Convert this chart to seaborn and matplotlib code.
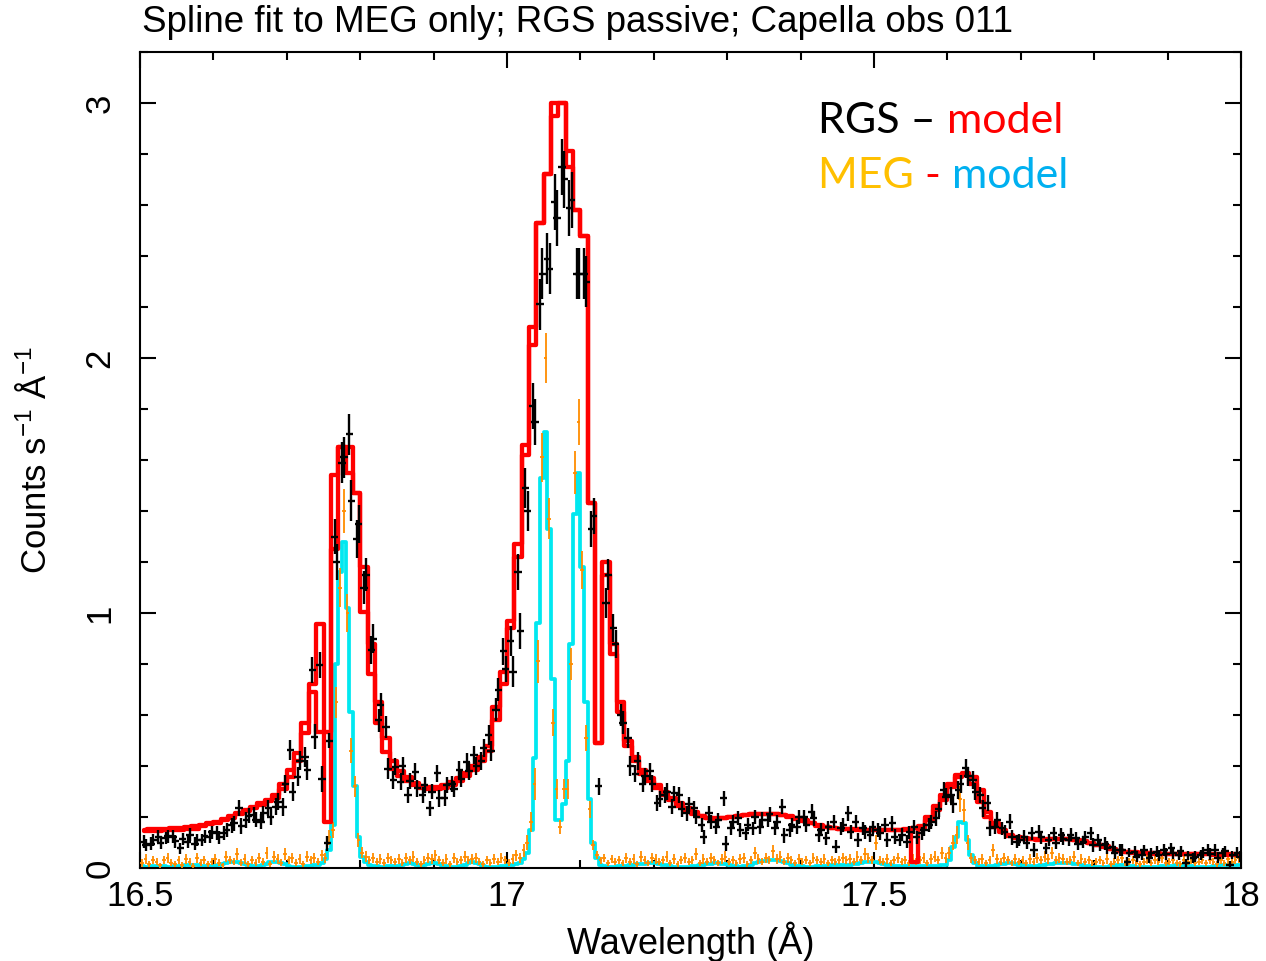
import numpy as np
import matplotlib
matplotlib.use("Agg")
import matplotlib.pyplot as plt
import seaborn as sns
from matplotlib.ticker import MultipleLocator

# RGS bins: 0.01 A wide, 16.50 - 18.00
rgs_start, rgs_step, rgs_n = 16.505, 0.01, 150
# MEG bins: 0.005 A wide
meg_start, meg_step, meg_n = 16.5025, 0.005, 300

# RGS model (two instruments), counts/s/A
red_a = [
    0.145, 0.146, 0.147, 0.148, 0.149, 0.150, 0.151, 0.153, 0.163, 0.172,
    0.182, 0.193, 0.204, 0.216, 0.228, 0.240, 0.253, 0.268, 0.288, 0.330,
    0.385, 0.450, 0.570, 0.720, 0.957, 0.180, 1.540, 1.650, 1.650, 1.470,
    1.180, 0.880, 0.650, 0.510, 0.420, 0.380, 0.355, 0.335, 0.322, 0.318,
    0.318, 0.325, 0.338, 0.352, 0.372, 0.400, 0.435, 0.480, 0.630, 0.770,
    0.970, 1.270, 1.660, 2.050, 2.530, 2.720, 3.000, 3.000, 2.810, 2.580,
    2.480, 1.430, 0.490, 1.200, 0.880, 0.650, 0.500, 0.437, 0.384, 0.352,
    0.325, 0.300, 0.275, 0.255, 0.235, 0.218, 0.205, 0.197, 0.195, 0.196,
    0.199, 0.203, 0.207, 0.210, 0.212, 0.213, 0.212, 0.208, 0.202, 0.196,
    0.188, 0.178, 0.168, 0.162, 0.157, 0.154, 0.152, 0.151, 0.150, 0.150,
    0.150, 0.149, 0.149, 0.149, 0.150, 0.025, 0.155, 0.188, 0.227, 0.267,
    0.319, 0.358, 0.371, 0.358, 0.306, 0.221, 0.175, 0.149, 0.129, 0.120,
    0.116, 0.114, 0.112, 0.112, 0.113, 0.114, 0.113, 0.110, 0.105, 0.100,
    0.092, 0.085, 0.075, 0.068, 0.064, 0.062, 0.060, 0.058, 0.057, 0.056,
    0.055, 0.055, 0.055, 0.054, 0.054, 0.054, 0.053, 0.053, 0.053, 0.053,
]
red_b = [
    0.150, 0.151, 0.152, 0.153, 0.155, 0.157, 0.160, 0.163, 0.168, 0.175,
    0.178, 0.188, 0.198, 0.210, 0.222, 0.234, 0.247, 0.262, 0.275, 0.310,
    0.355, 0.420, 0.530, 0.690, 0.535, 0.535, 1.250, 1.650, 1.550, 1.470,
    1.005, 0.760, 0.570, 0.456, 0.390, 0.360, 0.340, 0.325, 0.315, 0.310,
    0.310, 0.315, 0.325, 0.340, 0.360, 0.385, 0.420, 0.460, 0.580, 0.720,
    0.940, 1.220, 1.620, 2.120, 2.530, 2.720, 2.950, 3.000, 2.750, 2.580,
    2.480, 1.430, 0.490, 1.150, 0.840, 0.610, 0.480, 0.420, 0.370, 0.340,
    0.312, 0.288, 0.265, 0.245, 0.228, 0.213, 0.202, 0.196, 0.194, 0.196,
    0.200, 0.204, 0.208, 0.211, 0.213, 0.213, 0.211, 0.207, 0.200, 0.193,
    0.185, 0.175, 0.166, 0.160, 0.156, 0.153, 0.151, 0.150, 0.149, 0.149,
    0.149, 0.149, 0.150, 0.150, 0.152, 0.156, 0.165, 0.200, 0.245, 0.285,
    0.330, 0.365, 0.365, 0.330, 0.260, 0.200, 0.160, 0.140, 0.125, 0.118,
    0.114, 0.112, 0.111, 0.111, 0.112, 0.113, 0.112, 0.109, 0.104, 0.098,
    0.090, 0.082, 0.073, 0.066, 0.062, 0.060, 0.059, 0.057, 0.056, 0.055,
    0.054, 0.054, 0.054, 0.053, 0.053, 0.053, 0.052, 0.052, 0.052, 0.052,
]

# RGS data points
rgs1 = [
    0.103, 0.096, 0.123, 0.118, 0.123, 0.077, 0.103, 0.096, 0.110, 0.123,
    0.136, 0.136, 0.168, 0.234, 0.188, 0.208, 0.182, 0.234, 0.240, 0.240,
    0.463, 0.358, 0.436, 0.776, 0.796, 0.097, 1.300, 1.590, 1.700, 1.290,
    1.100, 0.855, 0.580, 0.553, 0.345, 0.338, 0.286, 0.378, 0.286, 0.234,
    0.371, 0.273, 0.330, 0.384, 0.417, 0.443, 0.420, 0.520, 0.620, 0.850,
    0.890, 1.160, 1.490, 1.810, 2.210, 2.390, 2.610, 2.750, 2.590, 2.330,
    2.330, 1.330, 0.320, 1.040, 0.940, 0.600, 0.510, 0.370, 0.330, 0.380,
    0.254, 0.286, 0.240, 0.286, 0.214, 0.234, 0.168, 0.214, 0.162, 0.273,
    0.155, 0.195, 0.136, 0.155, 0.162, 0.188, 0.155, 0.240, 0.149, 0.162,
    0.200, 0.221, 0.129, 0.116, 0.182, 0.155, 0.214, 0.182, 0.155, 0.129,
    0.149, 0.168, 0.175, 0.110, 0.103, 0.162, 0.136, 0.168, 0.195, 0.306,
    0.286, 0.306, 0.391, 0.345, 0.286, 0.254, 0.162, 0.155, 0.182, 0.103,
    0.123, 0.136, 0.143, 0.077, 0.136, 0.129, 0.110, 0.116, 0.103, 0.136,
    0.110, 0.096, 0.084, 0.071, 0.025, 0.064, 0.051, 0.038, 0.064, 0.071,
    0.077, 0.051, 0.018, 0.038, 0.051, 0.071, 0.071, 0.058, 0.012, 0.060,
]
rgs2 = [
    0.090, 0.110, 0.100, 0.125, 0.105, 0.115, 0.130, 0.110, 0.125, 0.140,
    0.120, 0.150, 0.175, 0.165, 0.205, 0.190, 0.215, 0.200, 0.260, 0.330,
    0.300, 0.420, 0.384, 0.515, 0.350, 0.500, 1.200, 1.610, 1.440, 1.350,
    1.150, 0.900, 0.640, 0.390, 0.398, 0.400, 0.340, 0.312, 0.325, 0.300,
    0.273, 0.325, 0.310, 0.350, 0.380, 0.400, 0.470, 0.460, 0.700, 0.780,
    0.770, 0.930, 1.400, 1.750, 2.330, 2.350, 2.550, 2.700, 2.620, 2.330,
    2.300, 1.380, np.nan, 1.150, 0.880, 0.570, 0.400, 0.420, 0.360, 0.330,
    0.270, 0.300, 0.293, 0.230, 0.250, 0.200, 0.123, 0.180, 0.190, 0.096,
    0.180, 0.149, 0.170, 0.200, 0.190, 0.210, 0.180, 0.129, 0.170, 0.200,
    0.170, 0.195, 0.150, 0.160, 0.084, 0.170, 0.140, 0.110, 0.140, 0.160,
    0.136, 0.110, 0.123, 0.130, 0.140, 0.120, 0.150, 0.180, 0.230, 0.280,
    0.250, 0.330, 0.360, 0.300, 0.234, 0.155, 0.190, 0.140, 0.120, 0.110,
    0.100, 0.071, 0.120, 0.110, 0.100, 0.115, 0.130, 0.095, 0.120, 0.090,
    0.090, 0.080, 0.060, 0.071, 0.060, 0.045, 0.070, 0.060, 0.050, 0.055,
    0.060, 0.065, 0.050, 0.045, 0.060, 0.055, 0.040, 0.065, 0.050, 0.045,
]
rgs_err = [
    0.025, 0.024, 0.026, 0.025, 0.026, 0.023, 0.025, 0.024, 0.025, 0.026,
    0.027, 0.027, 0.029, 0.031, 0.030, 0.031, 0.030, 0.032, 0.033, 0.035,
    0.038, 0.037, 0.040, 0.050, 0.050, 0.030, 0.070, 0.080, 0.080, 0.075,
    0.065, 0.055, 0.045, 0.042, 0.034, 0.034, 0.032, 0.033, 0.031, 0.030,
    0.033, 0.031, 0.032, 0.034, 0.035, 0.036, 0.036, 0.039, 0.045, 0.052,
    0.060, 0.070, 0.080, 0.090, 0.100, 0.100, 0.110, 0.110, 0.110, 0.100,
    0.100, 0.070, 0.032, 0.060, 0.055, 0.045, 0.040, 0.034, 0.033, 0.033,
    0.031, 0.032, 0.030, 0.031, 0.029, 0.029, 0.027, 0.028, 0.027, 0.029,
    0.027, 0.028, 0.026, 0.027, 0.028, 0.028, 0.027, 0.029, 0.027, 0.028,
    0.028, 0.029, 0.026, 0.026, 0.027, 0.027, 0.028, 0.027, 0.027, 0.026,
    0.027, 0.027, 0.028, 0.025, 0.025, 0.027, 0.026, 0.028, 0.029, 0.033,
    0.033, 0.034, 0.037, 0.035, 0.033, 0.031, 0.028, 0.027, 0.028, 0.025,
    0.026, 0.026, 0.027, 0.023, 0.026, 0.026, 0.025, 0.025, 0.024, 0.026,
    0.025, 0.024, 0.023, 0.022, 0.018, 0.022, 0.021, 0.020, 0.022, 0.022,
    0.023, 0.021, 0.017, 0.020, 0.021, 0.022, 0.022, 0.021, 0.016, 0.021,
]

# MEG spline model
cyan_model = [
    0.006, 0.005, 0.005, 0.006, 0.007, 0.007, 0.006, 0.005, 0.005, 0.006,
    0.007, 0.009, 0.011, 0.012, 0.012, 0.011, 0.009, 0.007, 0.006, 0.006,
    0.007, 0.010, 0.014, 0.019, 0.023, 0.025, 0.024, 0.020, 0.015, 0.010,
    0.007, 0.006, 0.008, 0.012, 0.017, 0.022, 0.025, 0.024, 0.020, 0.014,
    0.008, 0.005, 0.004, 0.004, 0.005, 0.006, 0.008, 0.010, 0.012, 0.020,
    0.035, 0.070, 0.170, 0.800, 1.160, 1.280, 1.020, 0.610, 0.320, 0.120,
    0.045, 0.022, 0.012, 0.008, 0.006, 0.005, 0.005, 0.006, 0.007, 0.007,
    0.008, 0.010, 0.014, 0.018, 0.016, 0.012, 0.009, 0.010, 0.014, 0.018,
    0.018, 0.014, 0.009, 0.006, 0.005, 0.004, 0.005, 0.008, 0.013, 0.019,
    0.022, 0.020, 0.014, 0.008, 0.005, 0.004, 0.004, 0.005, 0.006, 0.008,
    0.010, 0.012, 0.015, 0.020, 0.035, 0.060, 0.150, 0.430, 0.960, 1.530,
    1.710, 1.330, 0.740, 0.190, 0.190, 0.250, 0.420, 0.880, 1.390, 1.550,
    1.180, 0.650, 0.270, 0.100, 0.040, 0.012, 0.006, 0.004, 0.004, 0.005,
    0.006, 0.007, 0.008, 0.010, 0.012, 0.014, 0.016, 0.017, 0.018, 0.018,
    0.018, 0.016, 0.013, 0.010, 0.007, 0.005, 0.004, 0.004, 0.004, 0.005,
    0.006, 0.008, 0.010, 0.012, 0.015, 0.017, 0.018, 0.018, 0.016, 0.014,
    0.011, 0.008, 0.006, 0.005, 0.006, 0.009, 0.013, 0.018, 0.023, 0.027,
    0.028, 0.030, 0.031, 0.031, 0.029, 0.025, 0.019, 0.013, 0.009, 0.007,
    0.006, 0.005, 0.005, 0.005, 0.006, 0.007, 0.008, 0.009, 0.010, 0.010,
    0.010, 0.010, 0.011, 0.012, 0.014, 0.017, 0.020, 0.023, 0.025, 0.025,
    0.024, 0.021, 0.017, 0.013, 0.010, 0.008, 0.007, 0.006, 0.006, 0.006,
    0.006, 0.006, 0.007, 0.007, 0.007, 0.007, 0.007, 0.008, 0.010, 0.012,
    0.031, 0.084, 0.123, 0.182, 0.175, 0.110, 0.050, 0.018, 0.008, 0.006,
    0.006, 0.007, 0.009, 0.012, 0.015, 0.017, 0.018, 0.018, 0.016, 0.013,
    0.010, 0.008, 0.007, 0.007, 0.008, 0.010, 0.012, 0.014, 0.016, 0.018,
    0.019, 0.020, 0.020, 0.019, 0.017, 0.014, 0.011, 0.008, 0.006, 0.005,
    0.004, 0.004, 0.004, 0.005, 0.006, 0.008, 0.010, 0.011, 0.010, 0.008,
    0.006, 0.005, 0.004, 0.004, 0.004, 0.004, 0.005, 0.005, 0.006, 0.007,
    0.008, 0.009, 0.010, 0.010, 0.009, 0.008, 0.006, 0.005, 0.004, 0.004,
    0.004, 0.005, 0.006, 0.008, 0.010, 0.011, 0.012, 0.012, 0.011, 0.010,
]

# MEG data points
meg = [
    0.020, 0.035, 0.015, 0.030, 0.025, 0.010, 0.030, 0.040, 0.020, 0.015,
    0.030, 0.012, 0.035, 0.025, 0.008, 0.040, 0.020, 0.030, 0.015, 0.025,
    0.035, 0.020, 0.010, 0.045, 0.030, 0.025, 0.055, 0.020, 0.035, 0.015,
    0.030, 0.020, 0.040, 0.025, 0.060, 0.015, 0.045, 0.035, 0.020, 0.055,
    0.030, 0.040, 0.020, 0.035, 0.015, 0.045, 0.030, 0.040, 0.025, 0.050,
    0.040, 0.120, 0.150, 0.650, 1.100, 1.400, 1.000, 0.460, 0.320, 0.110,
    0.060, 0.045, 0.030, 0.040, 0.025, 0.035, 0.020, 0.040, 0.030, 0.025,
    0.035, 0.020, 0.040, 0.030, 0.045, 0.025, 0.015, 0.030, 0.040, 0.035,
    0.050, 0.030, 0.020, 0.035, 0.015, 0.040, 0.025, 0.030, 0.045, 0.030,
    0.035, 0.040, 0.025, 0.015, 0.030, 0.020, 0.035, 0.025, 0.040, 0.030,
    0.020, 0.035, 0.050, 0.040, 0.070, 0.100, 0.180, 0.330, 0.810, 1.610,
    2.000, 1.370, 0.570, 0.310, 0.160, 0.310, 0.310, 0.800, 1.550, 1.750,
    1.170, 0.510, 0.230, 0.090, 0.050, 0.030, 0.040, 0.020, 0.035, 0.025,
    0.030, 0.020, 0.040, 0.025, 0.035, 0.015, 0.045, 0.030, 0.020, 0.040,
    0.035, 0.025, 0.030, 0.045, 0.020, 0.035, 0.015, 0.030, 0.040, 0.025,
    0.030, 0.055, 0.020, 0.035, 0.025, 0.040, 0.030, 0.020, 0.035, 0.045,
    0.025, 0.030, 0.020, 0.035, 0.040, 0.015, 0.030, 0.060, 0.035, 0.025,
    0.040, 0.030, 0.065, 0.035, 0.045, 0.025, 0.040, 0.030, 0.020, 0.035,
    0.025, 0.030, 0.020, 0.040, 0.030, 0.025, 0.035, 0.020, 0.030, 0.025,
    0.030, 0.040, 0.030, 0.035, 0.025, 0.045, 0.030, 0.055, 0.040, 0.030,
    0.100, 0.030, 0.025, 0.035, 0.020, 0.030, 0.040, 0.025, 0.030, 0.020,
    0.035, 0.025, 0.030, 0.040, 0.020, 0.035, 0.045, 0.030, 0.060, 0.040,
    0.060, 0.100, 0.130, 0.270, 0.227, 0.100, 0.040, 0.030, 0.025, 0.035,
    0.020, 0.030, 0.070, 0.035, 0.025, 0.040, 0.030, 0.020, 0.035, 0.025,
    0.030, 0.020, 0.035, 0.025, 0.040, 0.030, 0.045, 0.035, 0.060, 0.030,
    0.040, 0.035, 0.025, 0.030, 0.045, 0.020, 0.035, 0.025, 0.030, 0.020,
    0.025, 0.030, 0.020, 0.035, 0.015, 0.025, 0.030, 0.040, 0.020, 0.025,
    0.030, 0.020, 0.015, 0.025, 0.035, 0.020, 0.030, 0.025, 0.040, 0.020,
    0.025, 0.030, 0.020, 0.015, 0.030, 0.025, 0.035, 0.020, 0.025, 0.030,
    0.020, 0.030, 0.025, 0.015, 0.030, 0.020, 0.035, 0.025, 0.030, 0.040,
]
meg_err = [
    0.015, 0.018, 0.013, 0.016, 0.015, 0.011, 0.016, 0.019, 0.014, 0.013,
    0.016, 0.012, 0.018, 0.015, 0.010, 0.019, 0.014, 0.016, 0.013, 0.015,
    0.018, 0.014, 0.011, 0.020, 0.016, 0.015, 0.022, 0.014, 0.018, 0.013,
    0.016, 0.014, 0.019, 0.015, 0.023, 0.013, 0.020, 0.018, 0.014, 0.022,
    0.016, 0.019, 0.014, 0.018, 0.013, 0.020, 0.016, 0.019, 0.015, 0.021,
    0.020, 0.030, 0.032, 0.060, 0.078, 0.088, 0.073, 0.050, 0.042, 0.027,
    0.022, 0.020, 0.016, 0.019, 0.015, 0.018, 0.014, 0.019, 0.016, 0.015,
    0.018, 0.014, 0.019, 0.016, 0.020, 0.015, 0.012, 0.016, 0.019, 0.018,
    0.021, 0.016, 0.014, 0.018, 0.012, 0.019, 0.015, 0.016, 0.020, 0.016,
    0.018, 0.019, 0.015, 0.012, 0.016, 0.014, 0.018, 0.015, 0.019, 0.016,
    0.014, 0.018, 0.021, 0.019, 0.025, 0.030, 0.040, 0.062, 0.085, 0.095,
    0.097, 0.080, 0.052, 0.038, 0.028, 0.038, 0.038, 0.062, 0.085, 0.090,
    0.074, 0.050, 0.033, 0.020, 0.016, 0.014, 0.016, 0.013, 0.017, 0.014,
    0.016, 0.013, 0.019, 0.015, 0.018, 0.012, 0.020, 0.016, 0.013, 0.019,
    0.018, 0.015, 0.016, 0.020, 0.013, 0.018, 0.012, 0.016, 0.019, 0.015,
    0.016, 0.022, 0.013, 0.018, 0.015, 0.019, 0.016, 0.013, 0.018, 0.020,
    0.015, 0.016, 0.013, 0.018, 0.019, 0.012, 0.016, 0.023, 0.018, 0.015,
    0.019, 0.016, 0.024, 0.018, 0.020, 0.015, 0.019, 0.016, 0.013, 0.018,
    0.015, 0.016, 0.013, 0.019, 0.016, 0.015, 0.018, 0.013, 0.016, 0.015,
    0.016, 0.019, 0.016, 0.018, 0.015, 0.020, 0.016, 0.022, 0.019, 0.016,
    0.030, 0.016, 0.015, 0.018, 0.013, 0.016, 0.019, 0.015, 0.016, 0.013,
    0.018, 0.015, 0.016, 0.019, 0.013, 0.018, 0.020, 0.016, 0.023, 0.019,
    0.023, 0.030, 0.035, 0.050, 0.045, 0.030, 0.019, 0.016, 0.015, 0.018,
    0.013, 0.016, 0.025, 0.018, 0.015, 0.019, 0.016, 0.013, 0.018, 0.015,
    0.016, 0.013, 0.018, 0.015, 0.019, 0.016, 0.020, 0.018, 0.023, 0.016,
    0.019, 0.018, 0.015, 0.016, 0.020, 0.013, 0.018, 0.015, 0.016, 0.013,
    0.015, 0.016, 0.013, 0.018, 0.012, 0.015, 0.016, 0.019, 0.013, 0.015,
    0.016, 0.013, 0.012, 0.015, 0.018, 0.013, 0.016, 0.015, 0.019, 0.013,
    0.015, 0.016, 0.013, 0.012, 0.016, 0.015, 0.018, 0.013, 0.015, 0.016,
    0.013, 0.016, 0.015, 0.012, 0.016, 0.013, 0.018, 0.015, 0.016, 0.019,
]

rgs_wl = rgs_start + rgs_step * np.arange(rgs_n)
rgs2_wl = rgs_wl + 0.003
meg_wl = meg_start + meg_step * np.arange(meg_n)

W, H = 1266, 961
sns.set_theme(style="ticks")
plt.rcParams['font.family'] = ['Liberation Sans', 'DejaVu Sans']
plt.rcParams['mathtext.fontset'] = 'custom'
plt.rcParams['mathtext.rm'] = 'Liberation Sans'
plt.rcParams['mathtext.it'] = 'Liberation Sans'
plt.rcParams['text.color'] = 'black'
plt.rcParams['axes.labelcolor'] = 'black'

fig = plt.figure(figsize=(W / 100, H / 100), dpi=100)
ax = fig.add_axes([140 / W, 1 - 868 / H, (1241 - 140) / W, (868 - 52) / H])

# MEG: cyan model under orange points
sns.lineplot(x=meg_wl, y=cyan_model, ax=ax, color='#00e8f0', lw=2.7,
             drawstyle='steps-mid', estimator=None, zorder=2)
ax.errorbar(meg_wl, meg, yerr=meg_err, xerr=0.0025, fmt='none',
            ecolor='#ff8c00', elinewidth=1.3, capsize=0, zorder=3)

# RGS: two red models, black points on top
sns.lineplot(x=rgs_wl, y=red_a, ax=ax, color='red', lw=3.1,
             drawstyle='steps-mid', estimator=None, zorder=4)
sns.lineplot(x=rgs_wl, y=red_b, ax=ax, color='red', lw=3.1,
             drawstyle='steps-mid', estimator=None, zorder=4)
ax.errorbar(rgs_wl, rgs1, yerr=rgs_err, xerr=0.005, fmt='none',
            ecolor='black', elinewidth=1.7, capsize=0, zorder=5)
ax.errorbar(rgs2_wl, rgs2, yerr=rgs_err, xerr=0.005, fmt='none',
            ecolor='black', elinewidth=1.7, capsize=0, zorder=5)

ax.set_xlim(16.5, 18.0)
ax.set_ylim(0, 3.2)
ax.set_xticks([16.5, 17.0, 17.5, 18.0])
ax.set_xticklabels(['16.5', '17', '17.5', '18'])
ax.set_yticks([0, 1, 2, 3])
ax.set_yticklabels(['0', '1', '2', '3'])
ax.xaxis.set_minor_locator(MultipleLocator(0.1))
ax.yaxis.set_minor_locator(MultipleLocator(0.2))
ax.tick_params(which='both', direction='in', top=True, right=True,
               width=1.5, color='black', labelsize=25, labelcolor='black')
ax.tick_params(which='major', length=11.5)
ax.tick_params(which='minor', length=5.8)
ax.tick_params(axis='x', pad=9)
ax.tick_params(axis='y', labelrotation=90, pad=17)
for lab in ax.get_yticklabels():
    lab.set_va('center')
for sp in ax.spines.values():
    sp.set_linewidth(1.5)
    sp.set_color('black')

ax.set_xlabel('Wavelength (Å)', fontsize=26, labelpad=6)
ax.set_ylabel('Counts s$^{-1}$ Å$^{-1}$', fontsize=25)
ax.yaxis.set_label_coords(-0.079, 0.5)

fig.text(142 / W, 1 - 22 / H, 'Spline fit to MEG only; RGS passive; Capella obs 011',
         fontsize=26.5, ha='left', va='center')

# coloured legend text, placed piece by piece
fig.canvas.draw()
renderer = fig.canvas.get_renderer()


def colored_line(pieces, x_px, base_px):
    x = x_px
    for txt, col in pieces:
        t = fig.text(x / W, 1 - base_px / H, txt, color=col, fontsize=31,
                     family=['Lato', 'DejaVu Sans'], ha='left', va='baseline')
        ext = t.get_window_extent(renderer)
        x = x + ext.width


colored_line([('RGS \u2013 ', 'black'), ('model', '#ff0000')], 818, 133)
colored_line([('MEG ', '#ffc000'), ('- ', '#ff0000'), ('model', '#00b0f0')], 818, 188)

fig.savefig('out.png', dpi=100, facecolor='white')
